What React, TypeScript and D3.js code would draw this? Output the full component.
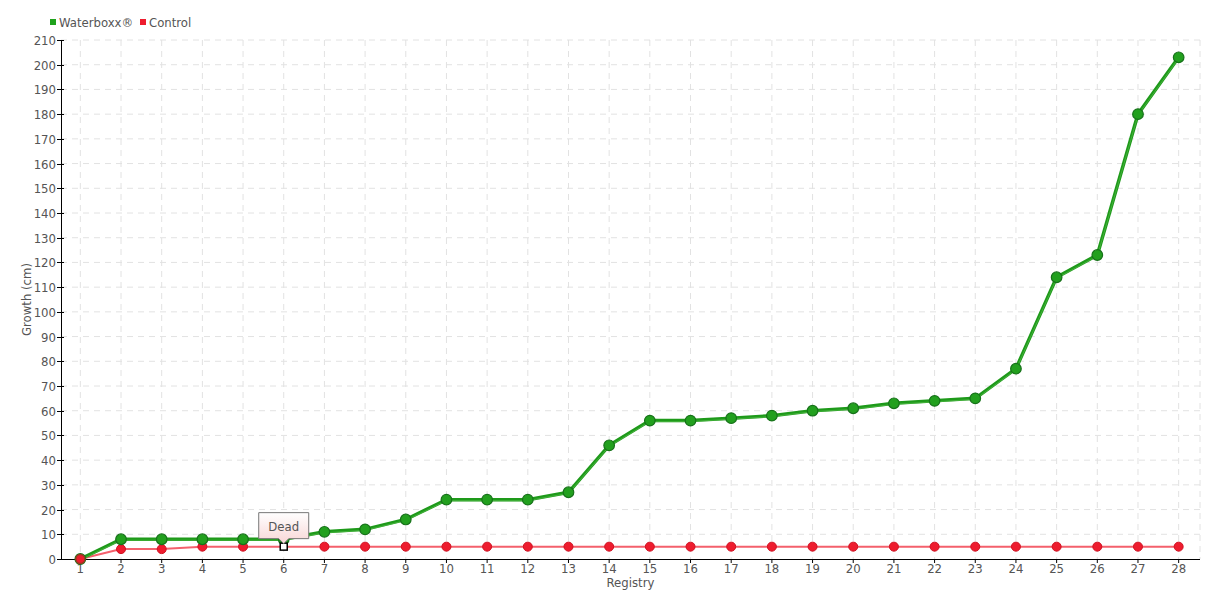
import React from "react";
import * as d3 from "d3";

const categories = ["1","2","3","4","5","6","7","8","9","10","11","12","13","14","15","16","17","18","19","20","21","22","23","24","25","26","27","28"];
const waterboxx = [0,8,8,8,8,8,11,12,16,24,24,24,27,46,56,56,57,58,60,61,63,64,65,77,114,123,180,203];
const control = [0,4,4,5,5,5,5,5,5,5,5,5,5,5,5,5,5,5,5,5,5,5,5,5,5,5,5,5];
const deadIndex = 5;
const deadLabel = "Dead";
const yTicks = d3.range(0, 211, 10);

const W = 1220, H = 600;
const M = { left: 61, right: 20, top: 40, bottom: 41 };
const FONT = "'DejaVu Sans Condensed', 'Liberation Sans Narrow', sans-serif";

export default function App() {
  const x = d3.scalePoint<string>().domain(categories).range([M.left - 1, W - M.right - 1]).padding(0.5);
  const y = d3.scaleLinear().domain([0, 210]).range([H - M.bottom, M.top]);
  const line = d3.line<number>().x((_, i) => x(categories[i])!).y(d => y(d));
  const x0 = M.left, x1 = W - M.right, yb = y(0), yt = y(210);
  const dx = x(categories[deadIndex])!, dy = y(control[deadIndex]);
  return (
    <svg width={W} height={H} style={{ position: "absolute", left: 0, top: 0, fontFamily: FONT }}>
      <defs>
        <linearGradient id="tip" x1="0" y1="0" x2="0" y2="1">
          <stop offset="0" stopColor="#ffffff" />
          <stop offset="1" stopColor="#f8d6d6" />
        </linearGradient>
      </defs>
      <g stroke="#e2e2e2" strokeDasharray="6,5" strokeWidth={1}>
        {yTicks.filter(t => t > 0).map(t => <line key={t} x1={x0} x2={x1} y1={y(t)} y2={y(t)} />)}
        {categories.map(c => <line key={c} x1={x(c)} x2={x(c)} y1={yt} y2={yb} />)}
        <line x1={x1} x2={x1} y1={yt} y2={yb} />
      </g>
      <g stroke="#000" strokeWidth={1}>
        <line x1={x0 + 0.5} x2={x0 + 0.5} y1={yt} y2={yb} />
        <line x1={x0} x2={x1} y1={yb + 0.5} y2={yb + 0.5} />
        {yTicks.map(t => <line key={t} x1={x0 - 4} x2={x0 + 3} y1={Math.round(y(t)) + 0.5} y2={Math.round(y(t)) + 0.5} />)}
        {categories.map(c => <line key={c} x1={x(c)} x2={x(c)} y1={yb} y2={yb + 4} />)}
      </g>
      <g fill="#555" fontSize={13} textAnchor="end">
        {yTicks.map(t => <text key={t} x={x0 - 5} y={y(t) + 5}>{t}</text>)}
      </g>
      <g fill="#555" fontSize={13} textAnchor="middle">
        {categories.map(c => <text key={c} x={x(c)} y={yb + 14}>{c}</text>)}
      </g>
      <text x={(x0 + x1) / 2} y={587} fill="#555" fontSize={13} textAnchor="middle">Registry</text>
      <text transform={`translate(31,${(yt + yb) / 2}) rotate(-90)`} fill="#555" fontSize={13} textAnchor="middle">Growth (cm)</text>
      {/* control */}
      <path d={line(control)!} fill="none" stroke="#f4606c" strokeWidth={2} />
      {control.map((v, i) => i === deadIndex ? null :
        <circle key={i} cx={x(categories[i])} cy={y(v)} r={4.5} fill="#ee1c2e" stroke="#d01020" strokeWidth={1} />)}
      {/* waterboxx */}
      <path d={line(waterboxx)!} fill="none" stroke="#1e9a1a" strokeWidth={3.5} />
      <path d={line(waterboxx)!} fill="none" stroke="#5cc050" strokeWidth={1} opacity={0.6} transform="translate(0,1)" />
      {waterboxx.map((v, i) =>
        <circle key={i} cx={x(categories[i])} cy={y(v)} r={5.3} fill="#22a01e" stroke="#17721a" strokeWidth={1.2} />)}
      <circle cx={x(categories[0])} cy={y(control[0])} r={4.5} fill="#ee1c2e" stroke="#9a3a20" strokeWidth={1.5} />
      {/* dead marker & tooltip */}
      <rect x={dx - 3.5} y={dy - 3.5} width={7} height={7} fill="#fff" stroke="#000" strokeWidth={1.5} />
      <path d={`M${dx - 25},${dy - 34} H${dx + 25} V${dy - 8} H${dx + 5} L${dx},${dy - 3} L${dx - 5},${dy - 8} H${dx - 25} Z`}
        fill="url(#tip)" stroke="#777" strokeWidth={1} />
      <text x={dx} y={dy - 16} fill="#555" fontSize={13} textAnchor="middle">{deadLabel}</text>
      {/* legend */}
      <rect x={50} y={19} width={6} height={6} fill="#1fa21c" />
      <text x={59} y={27} fill="#555" fontSize={13}>Waterboxx®</text>
      <rect x={140} y={19} width={6} height={6} fill="#ee1c2e" />
      <text x={149} y={27} fill="#555" fontSize={13}>Control</text>
    </svg>
  );
}
